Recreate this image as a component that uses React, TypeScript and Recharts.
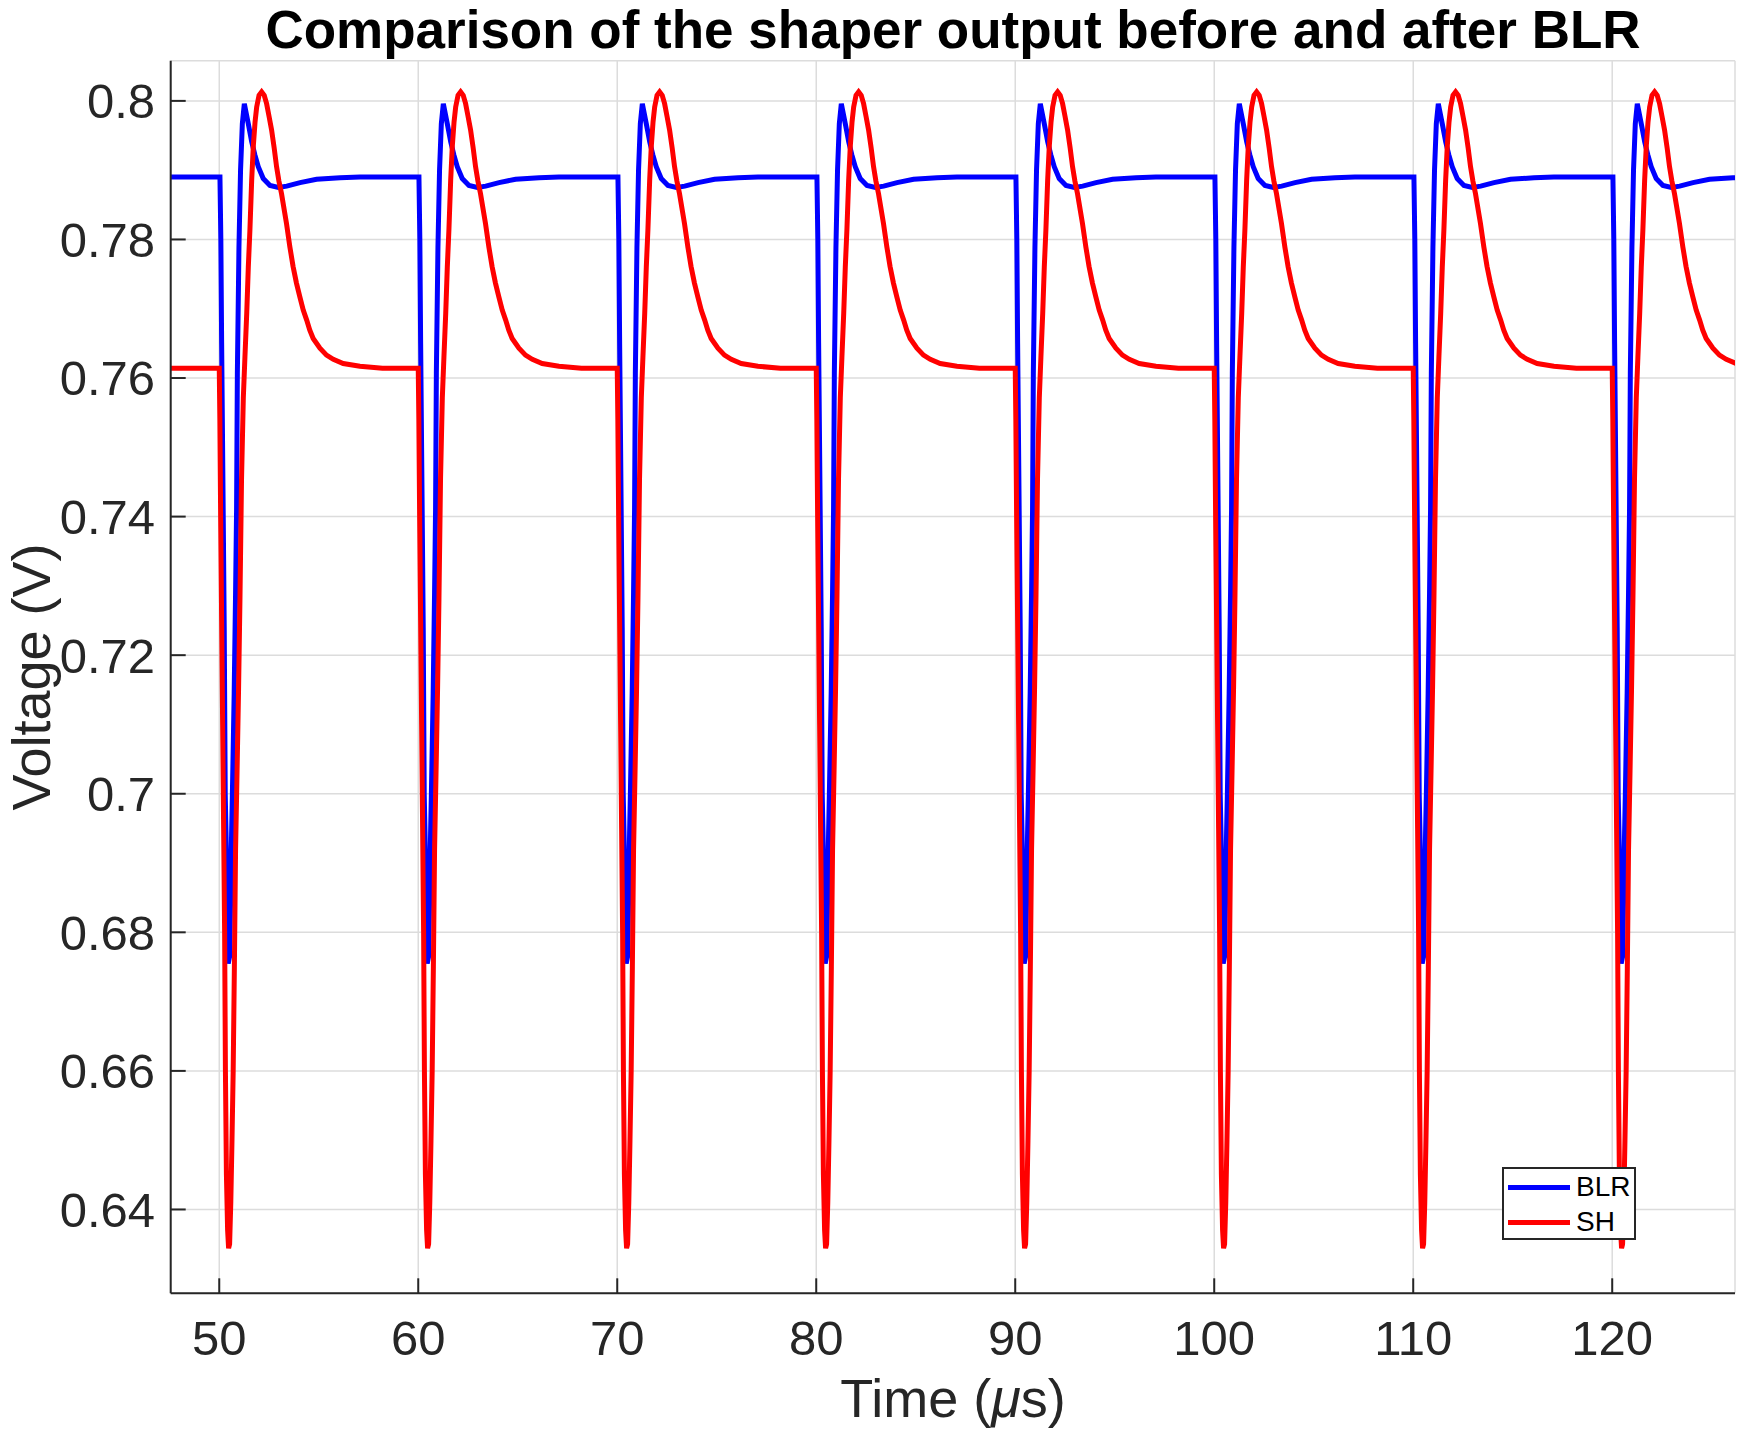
import React from "react";
import { CartesianGrid, Line, LineChart, XAxis, YAxis } from "recharts";

// pulse onsets (µs) and one pulse shape per trace, offsets in µs from the onset
const PULSE_STARTS = [50, 60, 70, 80, 90, 100, 110, 120];

const BLR_OFFSETS = [
  0.035, 0.08, 0.12, 0.2, 0.25, 0.3, 0.37, 0.42, 0.45, 0.52, 0.56, 0.62, 0.66, 0.75, 0.82, 0.87, 0.91,
  0.99, 1.07, 1.16, 1.26, 1.46, 1.63, 1.79, 1.96, 2.21, 2.55, 2.97, 3.39, 4.06, 4.89, 6.07, 7.07,
];
const BLR_VALUES = [
  0.789, 0.78, 0.765, 0.74, 0.724, 0.7, 0.69, 0.677, 0.6755, 0.6765, 0.683, 0.6943, 0.7, 0.7145, 0.729,
  0.7409, 0.7607, 0.7789, 0.79, 0.7967, 0.7996, 0.7967, 0.7941, 0.7922, 0.7905, 0.7888, 0.7878, 0.7875,
  0.7877, 0.7882, 0.7887, 0.7889, 0.789,
];

const SH_OFFSETS = [
  0, 0.03, 0.07, 0.12, 0.17, 0.22, 0.27, 0.31, 0.36, 0.42, 0.47, 0.52, 0.58, 0.64, 0.7, 0.76, 0.82, 0.9,
  0.97, 1.04, 1.12, 1.21, 1.29, 1.38, 1.46, 1.54, 1.63, 1.71, 1.8, 1.88, 2.0, 2.13, 2.26, 2.38, 2.5, 2.63,
  2.76, 2.88, 3.0, 3.13, 3.38, 3.55, 3.71, 3.88, 4.05, 4.22, 4.39, 4.55, 4.72, 5.06, 5.39, 5.73, 6.23,
  7.07, 8.2,
];
const SH_VALUES = [
  0.7614, 0.754, 0.74, 0.725, 0.71, 0.695, 0.68, 0.66, 0.645, 0.637, 0.6344, 0.635, 0.641, 0.65, 0.66,
  0.675, 0.692, 0.704, 0.715, 0.728, 0.7455, 0.7572, 0.763, 0.7693, 0.776, 0.7813, 0.7886, 0.7934, 0.797,
  0.7991, 0.8008, 0.8013, 0.8008, 0.7996, 0.7978, 0.7958, 0.7932, 0.7905, 0.7884, 0.7866, 0.7823, 0.7789,
  0.7761, 0.7737, 0.7717, 0.7698, 0.7684, 0.7669, 0.7657, 0.7643, 0.7633, 0.7627, 0.7621, 0.7617, 0.7614,
];

const START_T = 47.56;
const BLR_BASELINE = 0.789;
const SH_BASELINE = 0.7614;

const X_TICKS = [50, 60, 70, 80, 90, 100, 110, 120];
const Y_TICKS = [0.64, 0.66, 0.68, 0.7, 0.72, 0.74, 0.76, 0.78, 0.8];
const X_DOMAIN = [47.56, 126.17];
const Y_DOMAIN = [0.6279, 0.8058];

const SERIES = [
  { name: "BLR", color: "#0000ff" },
  { name: "SH", color: "#ff0000" },
];

function buildTrace(baseline: number, offsets: number[], values: number[]) {
  const rows = [{ t: START_T, v: baseline }];
  PULSE_STARTS.forEach((p) => {
    offsets.forEach((o, i) => rows.push({ t: p + o, v: values[i] }));
  });
  return rows;
}

const blrData = buildTrace(BLR_BASELINE, BLR_OFFSETS, BLR_VALUES);
const shData = buildTrace(SH_BASELINE, SH_OFFSETS, SH_VALUES);

const FONT = "'Liberation Sans', Arial, Helvetica, sans-serif";
const AXIS = "#262626";
const tickStyle = { fill: AXIS, fontSize: 49, fontFamily: FONT };

export default function App() {
  return (
    <div
      style={{
        position: "absolute",
        left: 0,
        top: 0,
        width: 1739,
        height: 1430,
        background: "#fff",
        fontFamily: FONT,
      }}
    >
      <div
        style={{
          position: "absolute",
          left: 170,
          width: 1566,
          top: 0,
          textAlign: "center",
          fontSize: 53,
          lineHeight: "60.3px",
          fontWeight: "bold",
          color: "#000",
          whiteSpace: "nowrap",
        }}
      >
        Comparison of the shaper output before and after BLR
      </div>

      <LineChart width={1739} height={1430} margin={{ top: 60.7, right: 4, bottom: 0.7, left: 0.7 }}>
        <CartesianGrid stroke="#dcdcdc" strokeWidth={1.5} />
        <XAxis
          type="number"
          dataKey="t"
          domain={X_DOMAIN}
          ticks={X_TICKS}
          allowDataOverflow
          height={136}
          stroke={AXIS}
          strokeWidth={2}
          tickSize={-15}
          tickMargin={42}
          tick={tickStyle}
          label={{
            content: () => (
              <text x={953} y={1417} textAnchor="middle" fontSize={54} fill={AXIS} fontFamily={FONT}>
                Time (<tspan fontStyle="italic">μ</tspan>s)
              </text>
            ),
          }}
        />
        <XAxis
          xAxisId="top"
          orientation="top"
          type="number"
          domain={X_DOMAIN}
          ticks={X_TICKS}
          allowDataOverflow
          height={0}
          stroke={AXIS}
          strokeWidth={2}
          tickSize={-15}
          tick={false}
        />
        <YAxis
          type="number"
          domain={Y_DOMAIN}
          ticks={Y_TICKS}
          allowDataOverflow
          width={170}
          stroke={AXIS}
          strokeWidth={2}
          tickSize={-15}
          tickMargin={30.7}
          tick={tickStyle}
          tickFormatter={(v: number) => String(Number(v.toFixed(2)))}
          label={{
            content: () => (
              <text
                x={50}
                y={677}
                transform="rotate(-90, 50, 677)"
                textAnchor="middle"
                fontSize={54}
                fill={AXIS}
                fontFamily={FONT}
              >
                Voltage (V)
              </text>
            ),
          }}
        />
        <YAxis
          yAxisId="right"
          orientation="right"
          type="number"
          domain={Y_DOMAIN}
          ticks={Y_TICKS}
          allowDataOverflow
          width={0}
          stroke={AXIS}
          strokeWidth={2}
          tickSize={-15}
          tick={false}
        />
        <Line
          data={blrData}
          dataKey="v"
          name="BLR"
          type="linear"
          stroke={SERIES[0].color}
          strokeWidth={5}
          dot={false}
          isAnimationActive={false}
        />
        <Line
          data={shData}
          dataKey="v"
          name="SH"
          type="linear"
          stroke={SERIES[1].color}
          strokeWidth={5}
          dot={false}
          isAnimationActive={false}
        />
      </LineChart>

      <div
        style={{
          position: "absolute",
          left: 1502,
          top: 1167,
          width: 134,
          height: 73,
          boxSizing: "border-box",
          border: `2px solid ${AXIS}`,
          background: "#fff",
        }}
      >
        {SERIES.map((s, i) => (
          <div
            key={s.name}
            style={{
              position: "absolute",
              left: 4,
              top: i === 0 ? 2 : 37,
              height: 32,
              display: "flex",
              alignItems: "center",
            }}
          >
            <div style={{ width: 62, height: 5, background: s.color }} />
            <span style={{ marginLeft: 6, fontSize: 28, lineHeight: "32px", color: "#000" }}>{s.name}</span>
          </div>
        ))}
      </div>
    </div>
  );
}
